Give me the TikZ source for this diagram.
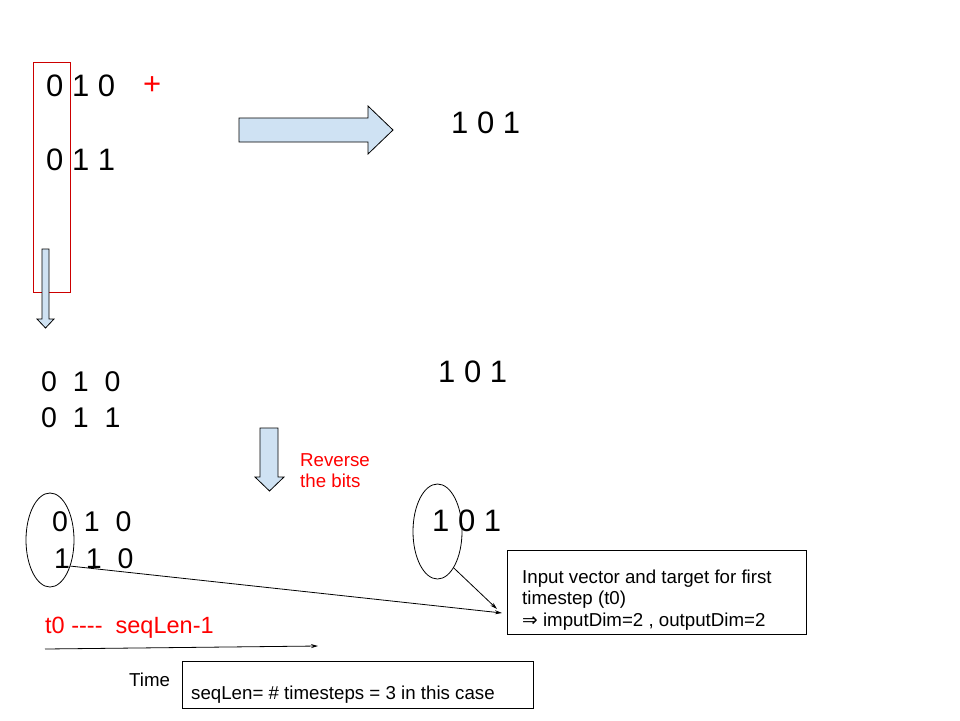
\documentclass[tikz,border=0pt]{standalone}
\usepackage{fontspec}
\setmainfont{Liberation Sans}
\newfontfamily\dejavu{DejaVu Sans}
\usetikzlibrary{shapes.geometric,arrows.meta}
\definecolor{arrowfill}{HTML}{CFE2F3}
\definecolor{redtxt}{HTML}{FF0000}
\definecolor{boxred}{HTML}{CC0000}
\begin{document}
\begin{tikzpicture}[x=1pt,y=-1pt,
  big/.style={font=\fontsize{31}{36}\selectfont, inner sep=0pt, anchor=base west},
  wide/.style={font=\fontsize{28.5}{33}\selectfont, inner sep=0pt, anchor=base west},
  small/.style={font=\fontsize{18.7}{21}\selectfont, inner sep=0pt, anchor=base west},
  blockarrow/.style={draw=black, line width=0.8pt, fill=arrowfill, line join=miter},
  oval/.style={draw=black, line width=0.8pt, ellipse, inner sep=0pt},
  plainbox/.style={draw=black, line width=0.8pt, rectangle, inner sep=0pt, anchor=north west},
  conn/.style={draw=black, line width=0.8pt, -{Stealth[length=7pt,width=4pt]}}
]
\useasboundingbox (0,0) rectangle (960,720);

% --- top row ---
\node[draw=boxred, line width=0.8pt, rectangle, inner sep=0pt, anchor=north west,
      minimum width=37pt, minimum height=230pt] (redbox) at (33,62) {};
\node[big] (a1) at (46,96) {0 1 0};
\node[big, text=redtxt] (plus) at (143,94) {+};
\node[big] (a2) at (46,170) {0 1 1};
\node[big] (r1) at (451,133) {1 0 1};

% right block arrow
\draw[blockarrow] (239,118) -- (368,118) -- (368,106) -- (393,130) -- (368,154)
   -- (368,142) -- (239,142) -- cycle;

% small down block arrow
\draw[blockarrow] (42,249) -- (49,249) -- (49,319) -- (54,319) -- (45.5,328)
   -- (37,319) -- (42,319) -- cycle;

% --- middle row ---
\node[wide] (m1) at (41,391) {0\ \ 1\ \ 0};
\node[wide] (m2) at (41,427) {0\ \ 1\ \ 1};
\node[big] (mr) at (438,382) {1 0 1};

% reverse block arrow
\draw[blockarrow] (260,428) -- (278,428) -- (278,477) -- (284,477) -- (269.5,491)
   -- (255,477) -- (260,477) -- cycle;
\node[small, text=redtxt] (rev1) at (300,466) {Reverse};
\node[small, text=redtxt] (rev2) at (300,487) {the bits};

% --- bottom row ---
\node[wide] (b1) at (52,531) {0\ \ 1\ \ 0};
\node[wide] (b2) at (54,568) {1\ \ 1\ \ 0};
\node[oval, minimum width=48pt, minimum height=94pt] (e1) at (50,540) {};

\node[big] (br) at (432,531) {1 0 1};
\node[oval, minimum width=49pt, minimum height=95pt] (e2) at (437.5,531.5) {};

\node[plainbox, minimum width=299pt, minimum height=84pt] (info) at (507,550) {};
\node[small] (info1) at (522,583) {Input vector and target for first};
\node[small] (info2) at (522,604) {timestep (t0)};
\node[small] (info3) at (522,626) {{\dejavu ⇒} imputDim=2 , outputDim=2};

\coordinate (tipA) at (502,613);
\coordinate (tipB) at (497,609);
\draw[conn] (e1.-52) -- (tipA);
\draw[conn] (e2.-66) -- (tipB);

% time
\node[font=\fontsize{23.5}{28}\selectfont, inner sep=0pt, anchor=base west, text=redtxt]
   (seq) at (45,633) {t0 -{}-{}-{}- \ seqLen-1};
\coordinate (tstart) at (45,649);
\coordinate (tend) at (318,646);
\draw[conn] (tstart) -- (tend);
\node[small] (time) at (129,686) {Time};

\node[plainbox, minimum width=351pt, minimum height=47pt] (seqbox) at (182,661) {};
\node[small] (seqtxt) at (191,699) {seqLen= \# timesteps = 3 in this case};
\end{tikzpicture}
\end{document}
